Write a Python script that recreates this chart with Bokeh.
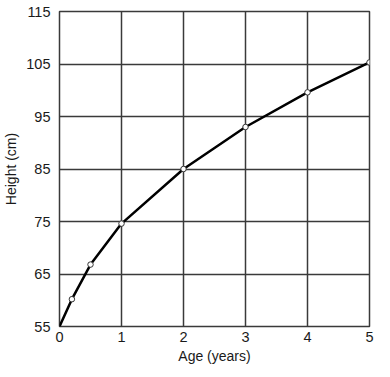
from bokeh.plotting import figure
from bokeh.models import Range1d, FixedTicker
from bokeh.embed import file_html
from bokeh.resources import INLINE

age = [0.0, 0.2, 0.5, 1.0, 2.0, 3.0, 4.0, 5.0]
height = [55.0, 60.2, 66.8, 74.6, 85.0, 93.0, 99.6, 105.3]
marker_age = age[1:]
marker_height = height[1:]
x_ticks = [0, 1, 2, 3, 4, 5]
y_ticks = [55, 65, 75, 85, 95, 105, 115]

p = figure(width=390, height=377, output_backend="svg", toolbar_location=None,
           x_range=Range1d(0, 5), y_range=Range1d(55, 115),
           min_border_left=59, min_border_right=21, min_border_top=11, min_border_bottom=51)
p.xaxis.ticker = FixedTicker(ticks=x_ticks)
p.yaxis.ticker = FixedTicker(ticks=y_ticks)
p.xgrid.ticker = FixedTicker(ticks=x_ticks)
p.ygrid.ticker = FixedTicker(ticks=y_ticks)

for ax in (p.xaxis, p.yaxis):
    ax.axis_line_color = None
    ax.major_tick_line_color = None
    ax.minor_tick_line_color = None
    ax.major_tick_out = 0
    ax.major_tick_in = 0
    ax.minor_tick_out = 0
    ax.minor_tick_in = 0
    ax.major_label_text_font = "Liberation Sans"
    ax.major_label_text_font_size = "14.5px"
    ax.major_label_text_color = "#1a1a1a"
    ax.axis_label_text_font = "Liberation Sans"
    ax.axis_label_text_font_size = "14px"
    ax.axis_label_text_font_style = "normal"
    ax.axis_label_text_color = "#1a1a1a"

p.xaxis.axis_label = "Age (years)"
p.yaxis.axis_label = "Height (cm)"
p.xaxis.major_label_standoff = 5
p.yaxis.major_label_standoff = 9
p.xaxis.axis_label_standoff = 3
p.yaxis.axis_label_standoff = 4

for g in (p.xgrid, p.ygrid):
    g.grid_line_color = "#3a3a3a"
    g.grid_line_width = 1.5
    g.grid_line_alpha = 1.0

p.outline_line_color = "#3a3a3a"
p.outline_line_width = 1.5
p.background_fill_color = "white"
p.border_fill_color = "white"

p.line(age, height, line_color="black", line_width=2.5)
p.scatter(marker_age, marker_height, size=5.5, fill_color="white", line_color="#333333", line_width=1)

open("out.html", "w").write(file_html(p, INLINE))
